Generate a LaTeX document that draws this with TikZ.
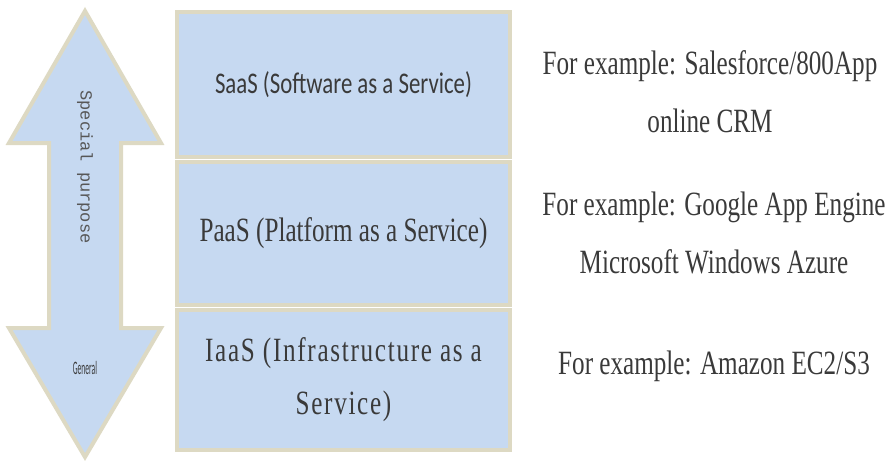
\documentclass[tikz,border=0pt]{standalone}
\usepackage{fontspec}
\setmainfont{Liberation Serif}
\newfontfamily\songfont[FakeStretch=0.74]{Liberation Serif}
\newfontfamily\widesong[FakeStretch=0.74,LetterSpace=5]{Liberation Serif}
\newfontfamily\calfont[FakeStretch=0.76]{Carlito}
\newfontfamily\narrowcal[FakeStretch=0.4]{Carlito}
\newfontfamily\plainmono{Liberation Mono}
\usetikzlibrary{positioning}

\definecolor{layerblue}{HTML}{C6D9F1}
\definecolor{layertan}{HTML}{DDD9C3}
\definecolor{inkgray}{HTML}{3A3A3A}

\tikzset{
  layer/.style={draw=layertan, fill=layerblue, line width=4pt, minimum width=333pt,
    text=inkgray, align=center, inner sep=0pt},
  layertext/.style={font=\songfont\fontsize{34}{53}\selectfont},
  example/.style={text=inkgray, align=center, font=\songfont\fontsize{34}{58}\selectfont},
  arrowbody/.style={draw=layertan, fill=layerblue, line width=4pt, line join=miter},
}

\begin{document}
\begin{tikzpicture}[x=1pt,y=-1pt]
  \useasboundingbox (0,0) rectangle (890,463);
  % up-down arrow on the left
  \draw[arrowbody] (85,11) -- (161,143) -- (121,143) -- (121,328) -- (161,328)
      -- (85,457) -- (9,328) -- (49,328) -- (49,143) -- (9,143) -- cycle;
  \node[rotate=-90, text=inkgray!85, font=\plainmono\fontsize{17}{17}\selectfont]
      (special) at (85,167) {Special purpose};
  \node[text=inkgray, font=\narrowcal\fontsize{19}{19}\selectfont] (general) at (85,368) {General};
  % the three layers
  \node[layer, minimum height=145pt, font=\calfont\fontsize{30}{36}\selectfont]
      (saas) at (343.5,84.5) {SaaS (Software as a Service)};
  \node[layer, layertext, minimum height=143pt] (paas) at (343.5,233.5)
      {PaaS (Platform as a Service)};
  \node[layer, font=\widesong\fontsize{34}{53}\selectfont, minimum height=140pt] (iaas) at (343.5,380)
      {IaaS (Infrastructure as a\\Service)};
  % examples
  \node[example] (exsaas) at (710,92) {For example: Salesforce/800App\\online CRM};
  \node[example] (expaas) at (714,233) {For example: Google App Engine\\Microsoft Windows Azure};
  \node[example] (exiaas) at (714,366) {For example: Amazon EC2/S3};
\end{tikzpicture}
\end{document}
